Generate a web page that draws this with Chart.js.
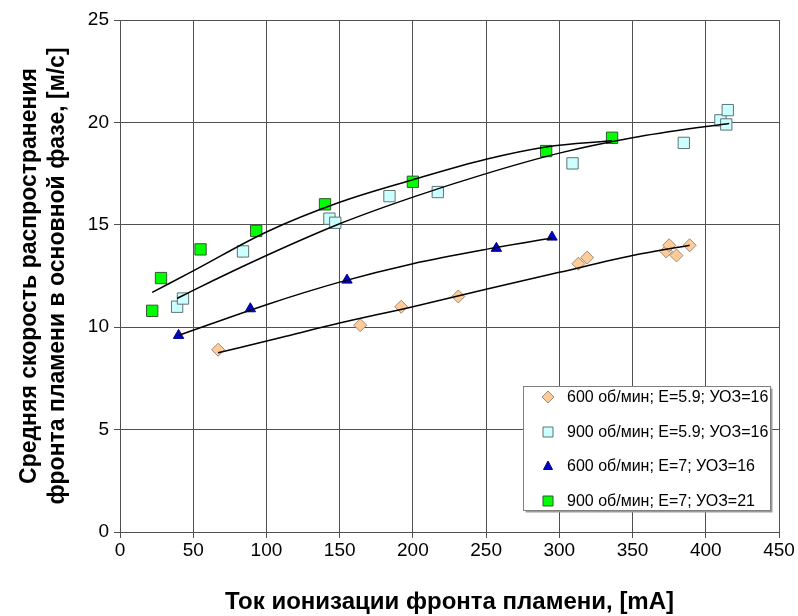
<!DOCTYPE html>
<html>
<head>
<meta charset="utf-8">
<script src="https://cdn.jsdelivr.net/npm/chart.js@4/dist/chart.umd.min.js"></script>
<style>
  body { margin: 0; background: #fff; }
  #wrap { width: 798px; height: 616px; }
</style>
</head>
<body>
<div id="wrap"><canvas id="chart" width="798" height="616"></canvas></div>
<script>
    // --- Data ---
    const seriesNames = [
      "600 об/мин; E=5.9; УОЗ=16",
      "900 об/мин; E=5.9; УОЗ=16",
      "600 об/мин; E=7; УОЗ=16",
      "900 об/мин; E=7; УОЗ=21"
    ];

    // 600 об/мин; E=5.9 (diamonds)
    const s1X = [67, 164, 192, 231, 313, 319, 373, 375, 380, 389];
    const s1Y = [8.9, 10.1, 11.0, 11.5, 13.1, 13.4, 13.7, 14.0, 13.5, 14.0];
    // 900 об/мин; E=5.9 (light squares)
    const s2X = [39, 43, 84, 143, 147, 184, 217, 309, 385, 410, 414, 415];
    const s2Y = [11.0, 11.4, 13.7, 15.3, 15.1, 16.4, 16.6, 18.0, 19.0, 20.1, 19.9, 20.6];
    // 600 об/мин; E=7 (triangles)
    const s3X = [40, 89, 155, 257, 295];
    const s3Y = [9.6, 10.9, 12.3, 13.85, 14.4];
    // 900 об/мин; E=7; УОЗ=21 (green squares)
    const s4X = [22, 28, 55, 93, 140, 200, 291, 336];
    const s4Y = [10.8, 12.4, 13.8, 14.7, 16.0, 17.1, 18.6, 19.25];

    // trend lines
    const t1X = [67, 110, 150, 200, 250, 300, 350, 389];
    const t1Y = [8.75, 9.5, 10.2, 11.0, 11.85, 12.68, 13.5, 14.0];
    const t2X = [39, 50, 100, 150, 200, 250, 300, 350, 400, 416];
    const t2Y = [11.4, 11.8, 13.5, 15.05, 16.35, 17.5, 18.5, 19.25, 19.8, 19.95];
    const t3X = [40, 100, 150, 200, 250, 295];
    const t3Y = [9.6, 11.1, 12.2, 13.1, 13.8, 14.35];
    const t4X = [22, 50, 100, 150, 200, 250, 291, 336];
    const t4Y = [11.7, 12.75, 14.65, 16.1, 17.2, 18.2, 18.8, 19.1];

    const xTitle = "Ток ионизации фронта пламени, [mA]";
    const yTitle = ["Средняя скорость распространения", "фронта пламени в основной фазе, [м/с]"];

    function pts(xs, ys) {
      return xs.map((x, i) => ({ x, y: ys[i] }));
    }

    const markerStyles = [
      { pointStyle: "rectRot", radius: 6.5, fill: "#FFCC99", border: "#9a8a78" },
      { pointStyle: "rect", radius: 8, fill: "#CCFFFF", border: "#5f7373" },
      { pointStyle: "triangle", radius: 6, fill: "#0000CC", border: "#000088" },
      { pointStyle: "rect", radius: 8, fill: "#00FF00", border: "#2e5a2e" }
    ];

    const pointSets = [pts(s1X, s1Y), pts(s2X, s2Y), pts(s3X, s3Y), pts(s4X, s4Y)];
    const trendSets = [pts(t1X, t1Y), pts(t2X, t2Y), pts(t3X, t3Y), pts(t4X, t4Y)];

    const datasets = [];
    trendSets.forEach((d) => {
      datasets.push({
        label: "",
        data: d,
        showLine: true,
        borderColor: "#000",
        borderWidth: 1.5,
        pointRadius: 0,
        cubicInterpolationMode: "monotone",
        order: 0
      });
    });
    pointSets.forEach((d, i) => {
      const m = markerStyles[i];
      datasets.push({
        label: seriesNames[i],
        data: d,
        showLine: false,
        pointStyle: m.pointStyle,
        pointRadius: m.radius,
        backgroundColor: m.fill,
        borderColor: m.border,
        borderWidth: 1,
        order: 1
      });
    });

    // --- legend box inside the plot ---
    const legendBox = {
      id: "legendBox",
      afterDraw(chart) {
        const ctx = chart.ctx;
        const bx = 523.5, by = 386.5, bw = 247, bh = 124;
        ctx.save();
        ctx.fillStyle = "#9a9a9a";
        ctx.fillRect(bx + 2, by + 2, bw, bh);
        ctx.fillStyle = "#fff";
        ctx.fillRect(bx, by, bw, bh);
        ctx.strokeStyle = "#808080";
        ctx.lineWidth = 1;
        ctx.strokeRect(bx, by, bw, bh);

        const rows = [397, 432, 466, 501];
        ctx.font = "16px 'Liberation Sans', Arial, sans-serif";
        ctx.textBaseline = "middle";
        seriesNames.forEach((name, i) => {
          const m = markerStyles[i];
          const cx = 548, cy = rows[i];
          ctx.beginPath();
          if (m.pointStyle === "rectRot") {
            ctx.moveTo(cx, cy - 6); ctx.lineTo(cx + 6, cy); ctx.lineTo(cx, cy + 6); ctx.lineTo(cx - 6, cy);
          } else if (m.pointStyle === "triangle") {
            ctx.moveTo(cx, cy - 5); ctx.lineTo(cx + 4.5, cy + 3.5); ctx.lineTo(cx - 4.5, cy + 3.5);
          } else {
            ctx.rect(cx - 5, cy - 5, 10, 10);
          }
          ctx.closePath();
          ctx.fillStyle = m.fill;
          ctx.fill();
          ctx.strokeStyle = m.border;
          ctx.stroke();
          ctx.fillStyle = "#000";
          ctx.fillText(name, 567, cy + 1);
        });
        ctx.restore();
      }
    };

    const gridColor = "#505050";
    const fontFamily = "'Liberation Sans', Arial, sans-serif";

    new Chart(document.getElementById("chart"), {
      type: "scatter",
      data: { datasets },
      options: {
        responsive: false,
        animation: false,
        layout: { padding: { top: 20, right: 19, left: 0, bottom: 0 } },
        plugins: {
          legend: { display: false },
          tooltip: { enabled: false }
        },
        scales: {
          x: {
            type: "linear",
            min: 0,
            max: 450,
            afterFit: (s) => { s.height = 84; },
            border: { color: gridColor },
            grid: { color: gridColor, tickLength: 6, tickColor: gridColor },
            ticks: { stepSize: 50, color: "#000", padding: 1, font: { family: fontFamily, size: 19 } },
            title: {
              display: true,
              text: xTitle,
              color: "#000",
              padding: { top: 0, bottom: 0 },
              font: { family: fontFamily, size: 24, weight: "bold", lineHeight: 1.15 }
            }
          },
          y: {
            min: 0,
            max: 25,
            afterFit: (s) => { s.width = 120; },
            border: { color: gridColor },
            grid: { color: gridColor, tickLength: 6, tickColor: gridColor },
            ticks: { stepSize: 5, color: "#000", padding: 5, font: { family: fontFamily, size: 19 } },
            title: {
              display: true,
              text: yTitle,
              color: "#000",
              padding: { top: 16, bottom: 0 },
              font: { family: fontFamily, size: 23, weight: "bold", lineHeight: 1.22 }
            }
          }
        }
      },
      plugins: [legendBox]
    });
</script>
</body>
</html>
